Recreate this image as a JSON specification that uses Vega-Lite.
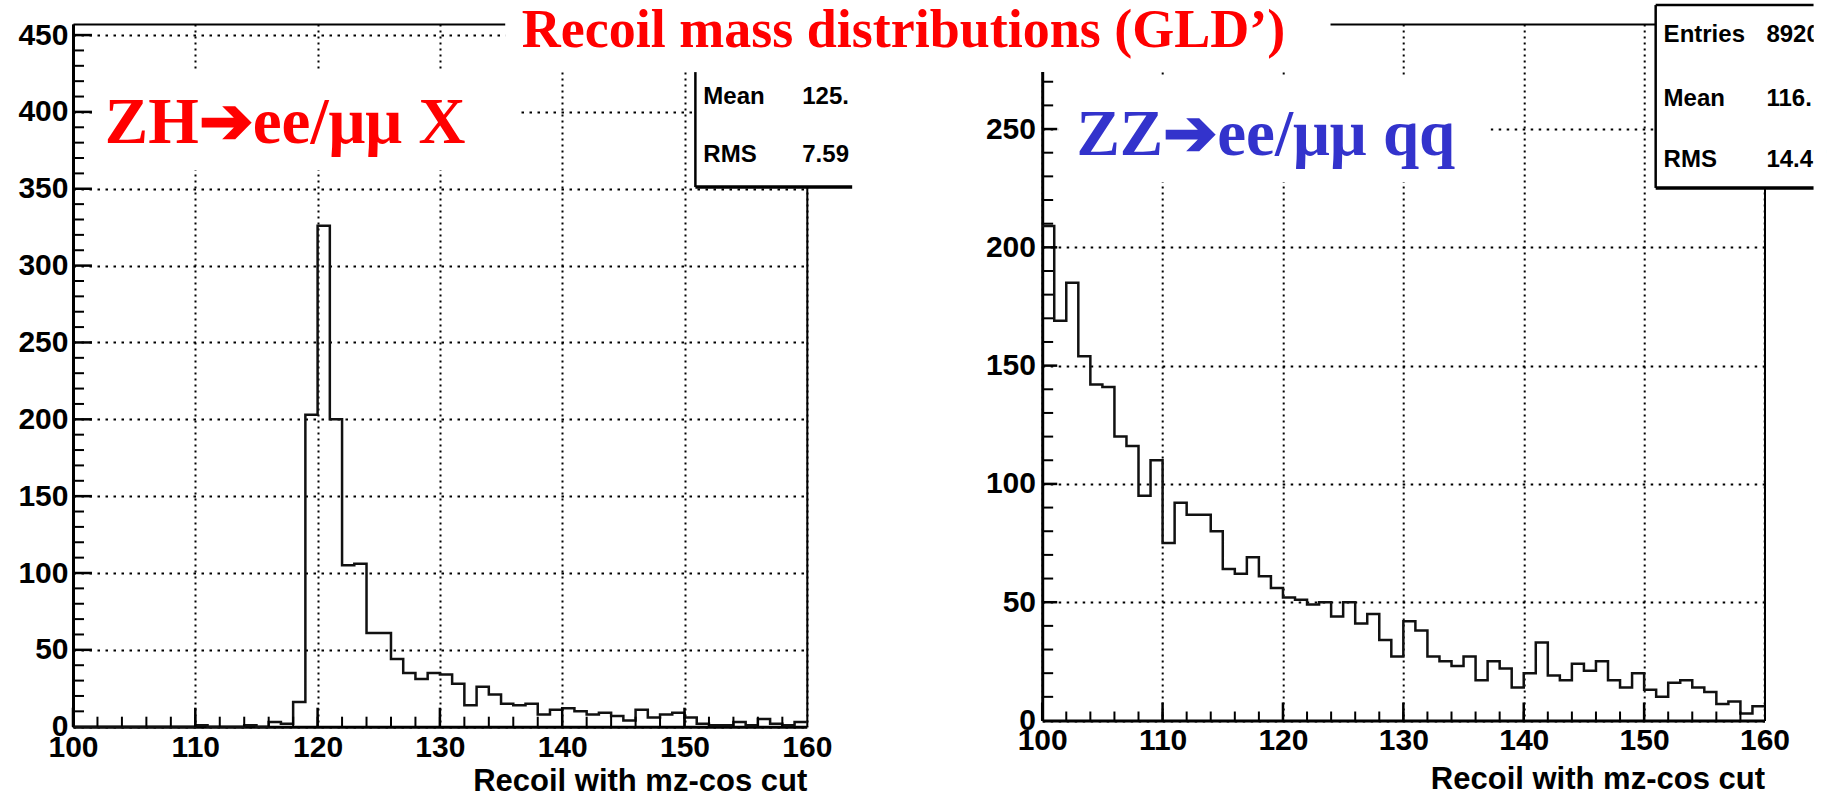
{
"$schema":"https://vega.github.io/schema/vega-lite/v6.json",
"background":"white",
"padding":0,
"bounds":"flush",
"spacing":235.2,
"datasets":{
"zh":[
{"lo":100,"hi":101,"n":0},{"lo":101,"hi":102,"n":0},{"lo":102,"hi":103,"n":0},{"lo":103,"hi":104,"n":0},{"lo":104,"hi":105,"n":0},{"lo":105,"hi":106,"n":0},{"lo":106,"hi":107,"n":0},{"lo":107,"hi":108,"n":0},{"lo":108,"hi":109,"n":0},{"lo":109,"hi":110,"n":0},
{"lo":110,"hi":111,"n":1},{"lo":111,"hi":112,"n":0},{"lo":112,"hi":113,"n":0},{"lo":113,"hi":114,"n":0},{"lo":114,"hi":115,"n":1},{"lo":115,"hi":116,"n":0},{"lo":116,"hi":117,"n":3},{"lo":117,"hi":118,"n":2},{"lo":118,"hi":119,"n":16},{"lo":119,"hi":120,"n":203},
{"lo":120,"hi":121,"n":326},{"lo":121,"hi":122,"n":200},{"lo":122,"hi":123,"n":105},{"lo":123,"hi":124,"n":106},{"lo":124,"hi":125,"n":61},{"lo":125,"hi":126,"n":61},{"lo":126,"hi":127,"n":44},{"lo":127,"hi":128,"n":35},{"lo":128,"hi":129,"n":31},{"lo":129,"hi":130,"n":35},
{"lo":130,"hi":131,"n":34},{"lo":131,"hi":132,"n":28},{"lo":132,"hi":133,"n":14},{"lo":133,"hi":134,"n":26},{"lo":134,"hi":135,"n":21},{"lo":135,"hi":136,"n":15},{"lo":136,"hi":137,"n":14},{"lo":137,"hi":138,"n":15},{"lo":138,"hi":139,"n":8},{"lo":139,"hi":140,"n":11},
{"lo":140,"hi":141,"n":12},{"lo":141,"hi":142,"n":10},{"lo":142,"hi":143,"n":8},{"lo":143,"hi":144,"n":9},{"lo":144,"hi":145,"n":7},{"lo":145,"hi":146,"n":4},{"lo":146,"hi":147,"n":11},{"lo":147,"hi":148,"n":6},{"lo":148,"hi":149,"n":8},{"lo":149,"hi":150,"n":9},
{"lo":150,"hi":151,"n":6},{"lo":151,"hi":152,"n":2},{"lo":152,"hi":153,"n":1},{"lo":153,"hi":154,"n":1},{"lo":154,"hi":155,"n":3},{"lo":155,"hi":156,"n":1},{"lo":156,"hi":157,"n":5},{"lo":157,"hi":158,"n":2},{"lo":158,"hi":159,"n":1},{"lo":159,"hi":160,"n":3}
],
"zz":[
{"lo":100,"hi":101,"n":209},{"lo":101,"hi":102,"n":169},{"lo":102,"hi":103,"n":185},{"lo":103,"hi":104,"n":154},{"lo":104,"hi":105,"n":142},{"lo":105,"hi":106,"n":141},{"lo":106,"hi":107,"n":120},{"lo":107,"hi":108,"n":116},{"lo":108,"hi":109,"n":95},{"lo":109,"hi":110,"n":110},
{"lo":110,"hi":111,"n":75},{"lo":111,"hi":112,"n":92},{"lo":112,"hi":113,"n":87},{"lo":113,"hi":114,"n":87},{"lo":114,"hi":115,"n":80},{"lo":115,"hi":116,"n":64},{"lo":116,"hi":117,"n":62},{"lo":117,"hi":118,"n":69},{"lo":118,"hi":119,"n":61},{"lo":119,"hi":120,"n":56},
{"lo":120,"hi":121,"n":52},{"lo":121,"hi":122,"n":51},{"lo":122,"hi":123,"n":49},{"lo":123,"hi":124,"n":50},{"lo":124,"hi":125,"n":44},{"lo":125,"hi":126,"n":50},{"lo":126,"hi":127,"n":41},{"lo":127,"hi":128,"n":45},{"lo":128,"hi":129,"n":34},{"lo":129,"hi":130,"n":27},
{"lo":130,"hi":131,"n":42},{"lo":131,"hi":132,"n":38},{"lo":132,"hi":133,"n":27},{"lo":133,"hi":134,"n":25},{"lo":134,"hi":135,"n":23},{"lo":135,"hi":136,"n":27},{"lo":136,"hi":137,"n":17},{"lo":137,"hi":138,"n":25},{"lo":138,"hi":139,"n":22},{"lo":139,"hi":140,"n":14},
{"lo":140,"hi":141,"n":20},{"lo":141,"hi":142,"n":33},{"lo":142,"hi":143,"n":19},{"lo":143,"hi":144,"n":17},{"lo":144,"hi":145,"n":24},{"lo":145,"hi":146,"n":21},{"lo":146,"hi":147,"n":25},{"lo":147,"hi":148,"n":17},{"lo":148,"hi":149,"n":14},{"lo":149,"hi":150,"n":20},
{"lo":150,"hi":151,"n":13},{"lo":151,"hi":152,"n":10},{"lo":152,"hi":153,"n":16},{"lo":153,"hi":154,"n":17},{"lo":154,"hi":155,"n":14},{"lo":155,"hi":156,"n":12},{"lo":156,"hi":157,"n":7},{"lo":157,"hi":158,"n":8},{"lo":158,"hi":159,"n":3},{"lo":159,"hi":160,"n":6}
],
"one":[{}]
},
"hconcat":[
{
"width":733.8,"height":702.7,
"resolve":{"axis":{"x":"independent","y":"independent"}},
"layer":[
{"data":{"name":"zh"},
 "transform":[{"fold":["lo","hi"],"as":["edge","x"]}],
 "mark":{"type":"line","color":"#111111","strokeWidth":2.5,"strokeJoin":"miter"},
 "encoding":{
  "x":{"field":"x","type":"quantitative","scale":{"domain":[100,160],"nice":false,"zero":false},
       "axis":{"orient":"bottom","values":[100,110,120,130,140,150,160],"grid":true,"gridDash":[2,4],"domainWidth":3,"tickSize":-18,"tickOpacity":0,"labelPadding":24,"labelFontSize":30,"title":"Recoil with mz-cos cut","titleFontSize":31,"titleAnchor":"end","titleBaseline":"alphabetic","titleY":64}},
  "y":{"field":"n","type":"quantitative","scale":{"domain":[0,457.2],"nice":false,"zero":false},
       "axis":{"orient":"left","values":[0,50,100,150,200,250,300,350,400,450],"grid":true,"gridDash":[2.5,5.5],"domainWidth":3,"tickSize":-18,"tickOpacity":0,"labelPadding":23,"labelFontSize":30,"title":null}},
  "order":[{"field":"x","type":"quantitative"},{"field":"edge","type":"ordinal"}]
 }},
{"data":{"name":"zh"},
 "mark":{"type":"point","opacity":0},
 "encoding":{
  "x":{"field":"lo","type":"quantitative","scale":{"domain":[100,160],"nice":false,"zero":false},
       "axis":{"orient":"top","ticks":false,"labels":false,"grid":false,"domainWidth":2,"domainColor":"#000000","title":null}},
  "y":{"field":"n","type":"quantitative","scale":{"domain":[0,457.2],"nice":false,"zero":false},
       "axis":{"orient":"right","ticks":false,"labels":false,"grid":false,"domainWidth":2,"domainColor":"#000000","title":null}}
 }},
{"data":{"name":"zh"},"transform":[{"filter":"datum.lo % 2 == 0"}],
 "mark":{"type":"rule","color":"#000000","strokeWidth":2},
 "encoding":{"x":{"field":"lo","type":"quantitative","scale":{"domain":[100,160],"nice":false,"zero":false},"axis":null},
  "y":{"datum":0,"type":"quantitative","scale":{"domain":[0,457.2],"nice":false,"zero":false},"axis":null},"y2":{"datum":6.51}}},
{"data":{"name":"zh"},"transform":[{"filter":"datum.lo % 10 == 0"}],
 "mark":{"type":"rule","color":"#000000","strokeWidth":2.5},
 "encoding":{"x":{"field":"lo","type":"quantitative","scale":{"domain":[100,160],"nice":false,"zero":false},"axis":null},
  "y":{"datum":0,"type":"quantitative","scale":{"domain":[0,457.2],"nice":false,"zero":false},"axis":null},"y2":{"datum":12.36}}},
{"data":{"name":"one"},
 "encoding":{"x":{"datum":100,"type":"quantitative","scale":{"domain":[100,160],"nice":false,"zero":false},"axis":null},"x2":{"datum":100.9}},
 "layer":[
  {"mark":{"type":"rule","color":"#000000","strokeWidth":2},"encoding":{"y":{"datum":10,"type":"quantitative","scale":{"domain":[0,457.2],"nice":false,"zero":false},"axis":null}}},
  {"mark":{"type":"rule","color":"#000000","strokeWidth":2},"encoding":{"y":{"datum":20,"type":"quantitative","scale":{"domain":[0,457.2],"nice":false,"zero":false},"axis":null}}},
  {"mark":{"type":"rule","color":"#000000","strokeWidth":2},"encoding":{"y":{"datum":30,"type":"quantitative","scale":{"domain":[0,457.2],"nice":false,"zero":false},"axis":null}}},
  {"mark":{"type":"rule","color":"#000000","strokeWidth":2},"encoding":{"y":{"datum":40,"type":"quantitative","scale":{"domain":[0,457.2],"nice":false,"zero":false},"axis":null}}},
  {"mark":{"type":"rule","color":"#000000","strokeWidth":2},"encoding":{"y":{"datum":60,"type":"quantitative","scale":{"domain":[0,457.2],"nice":false,"zero":false},"axis":null}}},
  {"mark":{"type":"rule","color":"#000000","strokeWidth":2},"encoding":{"y":{"datum":70,"type":"quantitative","scale":{"domain":[0,457.2],"nice":false,"zero":false},"axis":null}}},
  {"mark":{"type":"rule","color":"#000000","strokeWidth":2},"encoding":{"y":{"datum":80,"type":"quantitative","scale":{"domain":[0,457.2],"nice":false,"zero":false},"axis":null}}},
  {"mark":{"type":"rule","color":"#000000","strokeWidth":2},"encoding":{"y":{"datum":90,"type":"quantitative","scale":{"domain":[0,457.2],"nice":false,"zero":false},"axis":null}}},
  {"mark":{"type":"rule","color":"#000000","strokeWidth":2},"encoding":{"y":{"datum":110,"type":"quantitative","scale":{"domain":[0,457.2],"nice":false,"zero":false},"axis":null}}},
  {"mark":{"type":"rule","color":"#000000","strokeWidth":2},"encoding":{"y":{"datum":120,"type":"quantitative","scale":{"domain":[0,457.2],"nice":false,"zero":false},"axis":null}}},
  {"mark":{"type":"rule","color":"#000000","strokeWidth":2},"encoding":{"y":{"datum":130,"type":"quantitative","scale":{"domain":[0,457.2],"nice":false,"zero":false},"axis":null}}},
  {"mark":{"type":"rule","color":"#000000","strokeWidth":2},"encoding":{"y":{"datum":140,"type":"quantitative","scale":{"domain":[0,457.2],"nice":false,"zero":false},"axis":null}}},
  {"mark":{"type":"rule","color":"#000000","strokeWidth":2},"encoding":{"y":{"datum":160,"type":"quantitative","scale":{"domain":[0,457.2],"nice":false,"zero":false},"axis":null}}},
  {"mark":{"type":"rule","color":"#000000","strokeWidth":2},"encoding":{"y":{"datum":170,"type":"quantitative","scale":{"domain":[0,457.2],"nice":false,"zero":false},"axis":null}}},
  {"mark":{"type":"rule","color":"#000000","strokeWidth":2},"encoding":{"y":{"datum":180,"type":"quantitative","scale":{"domain":[0,457.2],"nice":false,"zero":false},"axis":null}}},
  {"mark":{"type":"rule","color":"#000000","strokeWidth":2},"encoding":{"y":{"datum":190,"type":"quantitative","scale":{"domain":[0,457.2],"nice":false,"zero":false},"axis":null}}},
  {"mark":{"type":"rule","color":"#000000","strokeWidth":2},"encoding":{"y":{"datum":210,"type":"quantitative","scale":{"domain":[0,457.2],"nice":false,"zero":false},"axis":null}}},
  {"mark":{"type":"rule","color":"#000000","strokeWidth":2},"encoding":{"y":{"datum":220,"type":"quantitative","scale":{"domain":[0,457.2],"nice":false,"zero":false},"axis":null}}},
  {"mark":{"type":"rule","color":"#000000","strokeWidth":2},"encoding":{"y":{"datum":230,"type":"quantitative","scale":{"domain":[0,457.2],"nice":false,"zero":false},"axis":null}}},
  {"mark":{"type":"rule","color":"#000000","strokeWidth":2},"encoding":{"y":{"datum":240,"type":"quantitative","scale":{"domain":[0,457.2],"nice":false,"zero":false},"axis":null}}},
  {"mark":{"type":"rule","color":"#000000","strokeWidth":2},"encoding":{"y":{"datum":260,"type":"quantitative","scale":{"domain":[0,457.2],"nice":false,"zero":false},"axis":null}}},
  {"mark":{"type":"rule","color":"#000000","strokeWidth":2},"encoding":{"y":{"datum":270,"type":"quantitative","scale":{"domain":[0,457.2],"nice":false,"zero":false},"axis":null}}},
  {"mark":{"type":"rule","color":"#000000","strokeWidth":2},"encoding":{"y":{"datum":280,"type":"quantitative","scale":{"domain":[0,457.2],"nice":false,"zero":false},"axis":null}}},
  {"mark":{"type":"rule","color":"#000000","strokeWidth":2},"encoding":{"y":{"datum":290,"type":"quantitative","scale":{"domain":[0,457.2],"nice":false,"zero":false},"axis":null}}},
  {"mark":{"type":"rule","color":"#000000","strokeWidth":2},"encoding":{"y":{"datum":310,"type":"quantitative","scale":{"domain":[0,457.2],"nice":false,"zero":false},"axis":null}}},
  {"mark":{"type":"rule","color":"#000000","strokeWidth":2},"encoding":{"y":{"datum":320,"type":"quantitative","scale":{"domain":[0,457.2],"nice":false,"zero":false},"axis":null}}},
  {"mark":{"type":"rule","color":"#000000","strokeWidth":2},"encoding":{"y":{"datum":330,"type":"quantitative","scale":{"domain":[0,457.2],"nice":false,"zero":false},"axis":null}}},
  {"mark":{"type":"rule","color":"#000000","strokeWidth":2},"encoding":{"y":{"datum":340,"type":"quantitative","scale":{"domain":[0,457.2],"nice":false,"zero":false},"axis":null}}},
  {"mark":{"type":"rule","color":"#000000","strokeWidth":2},"encoding":{"y":{"datum":360,"type":"quantitative","scale":{"domain":[0,457.2],"nice":false,"zero":false},"axis":null}}},
  {"mark":{"type":"rule","color":"#000000","strokeWidth":2},"encoding":{"y":{"datum":370,"type":"quantitative","scale":{"domain":[0,457.2],"nice":false,"zero":false},"axis":null}}},
  {"mark":{"type":"rule","color":"#000000","strokeWidth":2},"encoding":{"y":{"datum":380,"type":"quantitative","scale":{"domain":[0,457.2],"nice":false,"zero":false},"axis":null}}},
  {"mark":{"type":"rule","color":"#000000","strokeWidth":2},"encoding":{"y":{"datum":390,"type":"quantitative","scale":{"domain":[0,457.2],"nice":false,"zero":false},"axis":null}}},
  {"mark":{"type":"rule","color":"#000000","strokeWidth":2},"encoding":{"y":{"datum":410,"type":"quantitative","scale":{"domain":[0,457.2],"nice":false,"zero":false},"axis":null}}},
  {"mark":{"type":"rule","color":"#000000","strokeWidth":2},"encoding":{"y":{"datum":420,"type":"quantitative","scale":{"domain":[0,457.2],"nice":false,"zero":false},"axis":null}}},
  {"mark":{"type":"rule","color":"#000000","strokeWidth":2},"encoding":{"y":{"datum":430,"type":"quantitative","scale":{"domain":[0,457.2],"nice":false,"zero":false},"axis":null}}},
  {"mark":{"type":"rule","color":"#000000","strokeWidth":2},"encoding":{"y":{"datum":440,"type":"quantitative","scale":{"domain":[0,457.2],"nice":false,"zero":false},"axis":null}}}
 ]},
{"data":{"name":"one"},
 "encoding":{"x":{"datum":100,"type":"quantitative","scale":{"domain":[100,160],"nice":false,"zero":false},"axis":null},"x2":{"datum":101.55}},
 "layer":[
  {"mark":{"type":"rule","color":"#000000","strokeWidth":2.5},"encoding":{"y":{"datum":50,"type":"quantitative","scale":{"domain":[0,457.2],"nice":false,"zero":false},"axis":null}}},
  {"mark":{"type":"rule","color":"#000000","strokeWidth":2.5},"encoding":{"y":{"datum":100,"type":"quantitative","scale":{"domain":[0,457.2],"nice":false,"zero":false},"axis":null}}},
  {"mark":{"type":"rule","color":"#000000","strokeWidth":2.5},"encoding":{"y":{"datum":150,"type":"quantitative","scale":{"domain":[0,457.2],"nice":false,"zero":false},"axis":null}}},
  {"mark":{"type":"rule","color":"#000000","strokeWidth":2.5},"encoding":{"y":{"datum":200,"type":"quantitative","scale":{"domain":[0,457.2],"nice":false,"zero":false},"axis":null}}},
  {"mark":{"type":"rule","color":"#000000","strokeWidth":2.5},"encoding":{"y":{"datum":250,"type":"quantitative","scale":{"domain":[0,457.2],"nice":false,"zero":false},"axis":null}}},
  {"mark":{"type":"rule","color":"#000000","strokeWidth":2.5},"encoding":{"y":{"datum":300,"type":"quantitative","scale":{"domain":[0,457.2],"nice":false,"zero":false},"axis":null}}},
  {"mark":{"type":"rule","color":"#000000","strokeWidth":2.5},"encoding":{"y":{"datum":350,"type":"quantitative","scale":{"domain":[0,457.2],"nice":false,"zero":false},"axis":null}}},
  {"mark":{"type":"rule","color":"#000000","strokeWidth":2.5},"encoding":{"y":{"datum":400,"type":"quantitative","scale":{"domain":[0,457.2],"nice":false,"zero":false},"axis":null}}},
  {"mark":{"type":"rule","color":"#000000","strokeWidth":2.5},"encoding":{"y":{"datum":450,"type":"quantitative","scale":{"domain":[0,457.2],"nice":false,"zero":false},"axis":null}}}
 ]},
{"data":{"name":"one"},"mark":{"type":"rect","color":"#ffffff","opacity":1},
 "encoding":{"x":{"datum":94.06,"type":"quantitative","scale":{"domain":[100,160],"nice":false,"zero":false},"axis":null},"x2":{"datum":98.96},
  "y":{"datum":460.4,"type":"quantitative","scale":{"domain":[0,457.2],"nice":false,"zero":false},"axis":null},"y2":{"datum":472.8}}},
{"data":{"name":"one"},"mark":{"type":"rect","color":"#ffffff","opacity":1},
 "encoding":{"x":{"datum":150.89,"type":"quantitative","scale":{"domain":[100,160],"nice":false,"zero":false},"axis":null},"x2":{"datum":163.71},
  "y":{"datum":351.1,"type":"quantitative","scale":{"domain":[0,457.2],"nice":false,"zero":false},"axis":null},"y2":{"datum":425.9}}},
{"data":{"name":"one"},"mark":{"type":"rule","color":"#000000","strokeWidth":2.5},
 "encoding":{"x":{"datum":150.89,"type":"quantitative","scale":{"domain":[100,160],"nice":false,"zero":false},"axis":null},
  "y":{"datum":351.1,"type":"quantitative","scale":{"domain":[0,457.2],"nice":false,"zero":false},"axis":null},"y2":{"datum":425.9}}},
{"data":{"name":"one"},"mark":{"type":"rule","color":"#000000","strokeWidth":3.5},
 "encoding":{"x":{"datum":150.89,"type":"quantitative","scale":{"domain":[100,160],"nice":false,"zero":false},"axis":null},"x2":{"datum":163.71},
  "y":{"datum":351.1,"type":"quantitative","scale":{"domain":[0,457.2],"nice":false,"zero":false},"axis":null}}},
{"data":{"name":"one"},"mark":{"type":"rect","color":"#ffffff","opacity":1},
 "encoding":{"x":{"datum":101.59,"type":"quantitative","scale":{"domain":[100,160],"nice":false,"zero":false},"axis":null},"x2":{"datum":136.24},
  "y":{"datum":362.2,"type":"quantitative","scale":{"domain":[0,457.2],"nice":false,"zero":false},"axis":null},"y2":{"datum":427.2}}},
{"data":{"name":"one"},"mark":{"type":"rect","color":"#ffffff","opacity":1},
 "encoding":{"x":{"datum":135.34,"type":"quantitative","scale":{"domain":[100,160],"nice":false,"zero":false},"axis":null},"x2":{"datum":164.39},
  "y":{"datum":425.9,"type":"quantitative","scale":{"domain":[0,457.2],"nice":false,"zero":false},"axis":null},"y2":{"datum":472.8}}},
{"data":{"name":"one"},"mark":{"type":"text","text":"Mean","font":"Liberation Sans","fontWeight":"bold","fontSize":24,"align":"left","baseline":"alphabetic","color":"#000000"},
 "encoding":{"x":{"datum":151.54,"type":"quantitative","scale":{"domain":[100,160],"nice":false,"zero":false},"axis":null},
  "y":{"datum":405.1,"type":"quantitative","scale":{"domain":[0,457.2],"nice":false,"zero":false},"axis":null}}},
{"data":{"name":"one"},"mark":{"type":"text","text":"125.","font":"Liberation Sans","fontWeight":"bold","fontSize":24,"align":"left","baseline":"alphabetic","color":"#000000"},
 "encoding":{"x":{"datum":159.63,"type":"quantitative","scale":{"domain":[100,160],"nice":false,"zero":false},"axis":null},
  "y":{"datum":405.1,"type":"quantitative","scale":{"domain":[0,457.2],"nice":false,"zero":false},"axis":null}}},
{"data":{"name":"one"},"mark":{"type":"text","text":"RMS","font":"Liberation Sans","fontWeight":"bold","fontSize":24,"align":"left","baseline":"alphabetic","color":"#000000"},
 "encoding":{"x":{"datum":151.54,"type":"quantitative","scale":{"domain":[100,160],"nice":false,"zero":false},"axis":null},
  "y":{"datum":367.4,"type":"quantitative","scale":{"domain":[0,457.2],"nice":false,"zero":false},"axis":null}}},
{"data":{"name":"one"},"mark":{"type":"text","text":"7.59","font":"Liberation Sans","fontWeight":"bold","fontSize":24,"align":"left","baseline":"alphabetic","color":"#000000"},
 "encoding":{"x":{"datum":159.63,"type":"quantitative","scale":{"domain":[100,160],"nice":false,"zero":false},"axis":null},
  "y":{"datum":367.4,"type":"quantitative","scale":{"domain":[0,457.2],"nice":false,"zero":false},"axis":null}}},
{"data":{"name":"one"},"mark":{"type":"text","text":"ZH➔ee/μμ X","font":"Liberation Serif","fontWeight":"bold","fontSize":65,"align":"left","baseline":"alphabetic","color":"#ff0000"},
 "encoding":{"x":{"datum":102.6,"type":"quantitative","scale":{"domain":[100,160],"nice":false,"zero":false},"axis":null},
  "y":{"datum":379.6,"type":"quantitative","scale":{"domain":[0,457.2],"nice":false,"zero":false},"axis":null}}}
]
},
{
"width":722.3,"height":696.5,
"resolve":{"axis":{"x":"independent","y":"independent"}},
"layer":[
{"data":{"name":"zz"},
 "transform":[{"fold":["lo","hi"],"as":["edge","x"]}],
 "mark":{"type":"line","color":"#111111","strokeWidth":2.5,"strokeJoin":"miter"},
 "encoding":{
  "x":{"field":"x","type":"quantitative","scale":{"domain":[100,160],"nice":false,"zero":false},
       "axis":{"orient":"bottom","values":[100,110,120,130,140,150,160],"grid":true,"gridDash":[2,4],"domainWidth":3,"tickSize":-18,"tickOpacity":0,"labelPadding":23.3,"labelFontSize":30,"title":"Recoil with mz-cos cut","titleFontSize":31,"titleAnchor":"end","titleBaseline":"alphabetic","titleY":67.5}},
  "y":{"field":"n","type":"quantitative","scale":{"domain":[0,294.4],"nice":false,"zero":false},
       "axis":{"orient":"left","values":[0,50,100,150,200,250],"grid":true,"gridDash":[2.5,5.5],"domainWidth":3,"tickSize":-15,"tickOpacity":0,"labelPadding":21.7,"labelFontSize":30,"title":null}},
  "order":[{"field":"x","type":"quantitative"},{"field":"edge","type":"ordinal"}]
 }},
{"data":{"name":"zz"},
 "mark":{"type":"point","opacity":0},
 "encoding":{
  "x":{"field":"lo","type":"quantitative","scale":{"domain":[100,160],"nice":false,"zero":false},
       "axis":{"orient":"top","ticks":false,"labels":false,"grid":false,"domainWidth":2,"domainColor":"#000000","title":null}},
  "y":{"field":"n","type":"quantitative","scale":{"domain":[0,294.4],"nice":false,"zero":false},
       "axis":{"orient":"right","ticks":false,"labels":false,"grid":false,"domainWidth":2,"domainColor":"#000000","title":null}}
 }},
{"data":{"name":"zz"},"transform":[{"filter":"datum.lo % 2 == 0"}],
 "mark":{"type":"rule","color":"#000000","strokeWidth":2},
 "encoding":{"x":{"field":"lo","type":"quantitative","scale":{"domain":[100,160],"nice":false,"zero":false},"axis":null},
  "y":{"datum":0,"type":"quantitative","scale":{"domain":[0,294.4],"nice":false,"zero":false},"axis":null},"y2":{"datum":3.8}}},
{"data":{"name":"zz"},"transform":[{"filter":"datum.lo % 10 == 0"}],
 "mark":{"type":"rule","color":"#000000","strokeWidth":2.5},
 "encoding":{"x":{"field":"lo","type":"quantitative","scale":{"domain":[100,160],"nice":false,"zero":false},"axis":null},
  "y":{"datum":0,"type":"quantitative","scale":{"domain":[0,294.4],"nice":false,"zero":false},"axis":null},"y2":{"datum":7.61}}},
{"data":{"name":"one"},
 "encoding":{"x":{"datum":100,"type":"quantitative","scale":{"domain":[100,160],"nice":false,"zero":false},"axis":null},"x2":{"datum":100.91}},
 "layer":[
  {"mark":{"type":"rule","color":"#000000","strokeWidth":2},"encoding":{"y":{"datum":10,"type":"quantitative","scale":{"domain":[0,294.4],"nice":false,"zero":false},"axis":null}}},
  {"mark":{"type":"rule","color":"#000000","strokeWidth":2},"encoding":{"y":{"datum":20,"type":"quantitative","scale":{"domain":[0,294.4],"nice":false,"zero":false},"axis":null}}},
  {"mark":{"type":"rule","color":"#000000","strokeWidth":2},"encoding":{"y":{"datum":30,"type":"quantitative","scale":{"domain":[0,294.4],"nice":false,"zero":false},"axis":null}}},
  {"mark":{"type":"rule","color":"#000000","strokeWidth":2},"encoding":{"y":{"datum":40,"type":"quantitative","scale":{"domain":[0,294.4],"nice":false,"zero":false},"axis":null}}},
  {"mark":{"type":"rule","color":"#000000","strokeWidth":2},"encoding":{"y":{"datum":60,"type":"quantitative","scale":{"domain":[0,294.4],"nice":false,"zero":false},"axis":null}}},
  {"mark":{"type":"rule","color":"#000000","strokeWidth":2},"encoding":{"y":{"datum":70,"type":"quantitative","scale":{"domain":[0,294.4],"nice":false,"zero":false},"axis":null}}},
  {"mark":{"type":"rule","color":"#000000","strokeWidth":2},"encoding":{"y":{"datum":80,"type":"quantitative","scale":{"domain":[0,294.4],"nice":false,"zero":false},"axis":null}}},
  {"mark":{"type":"rule","color":"#000000","strokeWidth":2},"encoding":{"y":{"datum":90,"type":"quantitative","scale":{"domain":[0,294.4],"nice":false,"zero":false},"axis":null}}},
  {"mark":{"type":"rule","color":"#000000","strokeWidth":2},"encoding":{"y":{"datum":110,"type":"quantitative","scale":{"domain":[0,294.4],"nice":false,"zero":false},"axis":null}}},
  {"mark":{"type":"rule","color":"#000000","strokeWidth":2},"encoding":{"y":{"datum":120,"type":"quantitative","scale":{"domain":[0,294.4],"nice":false,"zero":false},"axis":null}}},
  {"mark":{"type":"rule","color":"#000000","strokeWidth":2},"encoding":{"y":{"datum":130,"type":"quantitative","scale":{"domain":[0,294.4],"nice":false,"zero":false},"axis":null}}},
  {"mark":{"type":"rule","color":"#000000","strokeWidth":2},"encoding":{"y":{"datum":140,"type":"quantitative","scale":{"domain":[0,294.4],"nice":false,"zero":false},"axis":null}}},
  {"mark":{"type":"rule","color":"#000000","strokeWidth":2},"encoding":{"y":{"datum":160,"type":"quantitative","scale":{"domain":[0,294.4],"nice":false,"zero":false},"axis":null}}},
  {"mark":{"type":"rule","color":"#000000","strokeWidth":2},"encoding":{"y":{"datum":170,"type":"quantitative","scale":{"domain":[0,294.4],"nice":false,"zero":false},"axis":null}}},
  {"mark":{"type":"rule","color":"#000000","strokeWidth":2},"encoding":{"y":{"datum":180,"type":"quantitative","scale":{"domain":[0,294.4],"nice":false,"zero":false},"axis":null}}},
  {"mark":{"type":"rule","color":"#000000","strokeWidth":2},"encoding":{"y":{"datum":190,"type":"quantitative","scale":{"domain":[0,294.4],"nice":false,"zero":false},"axis":null}}},
  {"mark":{"type":"rule","color":"#000000","strokeWidth":2},"encoding":{"y":{"datum":210,"type":"quantitative","scale":{"domain":[0,294.4],"nice":false,"zero":false},"axis":null}}},
  {"mark":{"type":"rule","color":"#000000","strokeWidth":2},"encoding":{"y":{"datum":220,"type":"quantitative","scale":{"domain":[0,294.4],"nice":false,"zero":false},"axis":null}}},
  {"mark":{"type":"rule","color":"#000000","strokeWidth":2},"encoding":{"y":{"datum":230,"type":"quantitative","scale":{"domain":[0,294.4],"nice":false,"zero":false},"axis":null}}},
  {"mark":{"type":"rule","color":"#000000","strokeWidth":2},"encoding":{"y":{"datum":240,"type":"quantitative","scale":{"domain":[0,294.4],"nice":false,"zero":false},"axis":null}}},
  {"mark":{"type":"rule","color":"#000000","strokeWidth":2},"encoding":{"y":{"datum":260,"type":"quantitative","scale":{"domain":[0,294.4],"nice":false,"zero":false},"axis":null}}},
  {"mark":{"type":"rule","color":"#000000","strokeWidth":2},"encoding":{"y":{"datum":270,"type":"quantitative","scale":{"domain":[0,294.4],"nice":false,"zero":false},"axis":null}}},
  {"mark":{"type":"rule","color":"#000000","strokeWidth":2},"encoding":{"y":{"datum":280,"type":"quantitative","scale":{"domain":[0,294.4],"nice":false,"zero":false},"axis":null}}},
  {"mark":{"type":"rule","color":"#000000","strokeWidth":2},"encoding":{"y":{"datum":290,"type":"quantitative","scale":{"domain":[0,294.4],"nice":false,"zero":false},"axis":null}}}
 ]},
{"data":{"name":"one"},
 "encoding":{"x":{"datum":100,"type":"quantitative","scale":{"domain":[100,160],"nice":false,"zero":false},"axis":null},"x2":{"datum":101.25}},
 "layer":[
  {"mark":{"type":"rule","color":"#000000","strokeWidth":2.5},"encoding":{"y":{"datum":50,"type":"quantitative","scale":{"domain":[0,294.4],"nice":false,"zero":false},"axis":null}}},
  {"mark":{"type":"rule","color":"#000000","strokeWidth":2.5},"encoding":{"y":{"datum":100,"type":"quantitative","scale":{"domain":[0,294.4],"nice":false,"zero":false},"axis":null}}},
  {"mark":{"type":"rule","color":"#000000","strokeWidth":2.5},"encoding":{"y":{"datum":150,"type":"quantitative","scale":{"domain":[0,294.4],"nice":false,"zero":false},"axis":null}}},
  {"mark":{"type":"rule","color":"#000000","strokeWidth":2.5},"encoding":{"y":{"datum":200,"type":"quantitative","scale":{"domain":[0,294.4],"nice":false,"zero":false},"axis":null}}},
  {"mark":{"type":"rule","color":"#000000","strokeWidth":2.5},"encoding":{"y":{"datum":250,"type":"quantitative","scale":{"domain":[0,294.4],"nice":false,"zero":false},"axis":null}}}
 ]},
{"data":{"name":"one"},"mark":{"type":"rect","color":"#ffffff","opacity":1},
 "encoding":{"x":{"datum":98.2,"type":"quantitative","scale":{"domain":[100,160],"nice":false,"zero":false},"axis":null},"x2":{"datum":123.95},
  "y":{"datum":274.1,"type":"quantitative","scale":{"domain":[0,294.4],"nice":false,"zero":false},"axis":null},"y2":{"datum":304.5}}},
{"data":{"name":"one"},"mark":{"type":"rect","color":"#ffffff","opacity":1},
 "encoding":{"x":{"datum":101.35,"type":"quantitative","scale":{"domain":[100,160],"nice":false,"zero":false},"axis":null},"x2":{"datum":137.24},
  "y":{"datum":227.6,"type":"quantitative","scale":{"domain":[0,294.4],"nice":false,"zero":false},"axis":null},"y2":{"datum":271.6}}},
{"data":{"name":"one"},"mark":{"type":"rect","color":"#ffffff","opacity":1},
 "encoding":{"x":{"datum":150.96,"type":"quantitative","scale":{"domain":[100,160],"nice":false,"zero":false},"axis":null},"x2":{"datum":164.09},
  "y":{"datum":225.1,"type":"quantitative","scale":{"domain":[0,294.4],"nice":false,"zero":false},"axis":null},"y2":{"datum":302.4}}},
{"data":{"name":"one"},"mark":{"type":"rule","color":"#000000","strokeWidth":2.5},
 "encoding":{"x":{"datum":150.96,"type":"quantitative","scale":{"domain":[100,160],"nice":false,"zero":false},"axis":null},
  "y":{"datum":225.1,"type":"quantitative","scale":{"domain":[0,294.4],"nice":false,"zero":false},"axis":null},"y2":{"datum":302.4}}},
{"data":{"name":"one"},"mark":{"type":"rule","color":"#000000","strokeWidth":2.5},
 "encoding":{"x":{"datum":150.96,"type":"quantitative","scale":{"domain":[100,160],"nice":false,"zero":false},"axis":null},"x2":{"datum":164.09},
  "y":{"datum":302.4,"type":"quantitative","scale":{"domain":[0,294.4],"nice":false,"zero":false},"axis":null}}},
{"data":{"name":"one"},"mark":{"type":"rule","color":"#000000","strokeWidth":3.5},
 "encoding":{"x":{"datum":150.96,"type":"quantitative","scale":{"domain":[100,160],"nice":false,"zero":false},"axis":null},"x2":{"datum":164.09},
  "y":{"datum":225.1,"type":"quantitative","scale":{"domain":[0,294.4],"nice":false,"zero":false},"axis":null}}},
{"data":{"name":"one"},"mark":{"type":"text","text":"Entries","font":"Liberation Sans","fontWeight":"bold","fontSize":24,"align":"left","baseline":"alphabetic","color":"#000000"},
 "encoding":{"x":{"datum":151.62,"type":"quantitative","scale":{"domain":[100,160],"nice":false,"zero":false},"axis":null},
  "y":{"datum":286.9,"type":"quantitative","scale":{"domain":[0,294.4],"nice":false,"zero":false},"axis":null}}},
{"data":{"name":"one"},"mark":{"type":"text","text":"8920","font":"Liberation Sans","fontWeight":"bold","fontSize":24,"align":"left","baseline":"alphabetic","color":"#000000"},
 "encoding":{"x":{"datum":160.16,"type":"quantitative","scale":{"domain":[100,160],"nice":false,"zero":false},"axis":null},
  "y":{"datum":286.9,"type":"quantitative","scale":{"domain":[0,294.4],"nice":false,"zero":false},"axis":null}}},
{"data":{"name":"one"},"mark":{"type":"text","text":"Mean","font":"Liberation Sans","fontWeight":"bold","fontSize":24,"align":"left","baseline":"alphabetic","color":"#000000"},
 "encoding":{"x":{"datum":151.62,"type":"quantitative","scale":{"domain":[100,160],"nice":false,"zero":false},"axis":null},
  "y":{"datum":259.7,"type":"quantitative","scale":{"domain":[0,294.4],"nice":false,"zero":false},"axis":null}}},
{"data":{"name":"one"},"mark":{"type":"text","text":"116.","font":"Liberation Sans","fontWeight":"bold","fontSize":24,"align":"left","baseline":"alphabetic","color":"#000000"},
 "encoding":{"x":{"datum":160.16,"type":"quantitative","scale":{"domain":[100,160],"nice":false,"zero":false},"axis":null},
  "y":{"datum":259.7,"type":"quantitative","scale":{"domain":[0,294.4],"nice":false,"zero":false},"axis":null}}},
{"data":{"name":"one"},"mark":{"type":"text","text":"RMS","font":"Liberation Sans","fontWeight":"bold","fontSize":24,"align":"left","baseline":"alphabetic","color":"#000000"},
 "encoding":{"x":{"datum":151.62,"type":"quantitative","scale":{"domain":[100,160],"nice":false,"zero":false},"axis":null},
  "y":{"datum":233.9,"type":"quantitative","scale":{"domain":[0,294.4],"nice":false,"zero":false},"axis":null}}},
{"data":{"name":"one"},"mark":{"type":"text","text":"14.47","font":"Liberation Sans","fontWeight":"bold","fontSize":24,"align":"left","baseline":"alphabetic","color":"#000000"},
 "encoding":{"x":{"datum":160.16,"type":"quantitative","scale":{"domain":[100,160],"nice":false,"zero":false},"axis":null},
  "y":{"datum":233.9,"type":"quantitative","scale":{"domain":[0,294.4],"nice":false,"zero":false},"axis":null}}},
{"data":{"name":"one"},"mark":{"type":"rect","color":"#ffffff","opacity":1},
 "encoding":{"x":{"datum":164.09,"type":"quantitative","scale":{"domain":[100,160],"nice":false,"zero":false},"axis":null},"x2":{"datum":165.17},
  "y":{"datum":224.2,"type":"quantitative","scale":{"domain":[0,294.4],"nice":false,"zero":false},"axis":null},"y2":{"datum":304.5}}},
{"data":{"name":"one"},"mark":{"type":"text","text":"ZZ➔ee/μμ qq","font":"Liberation Serif","fontWeight":"bold","fontSize":65,"align":"left","baseline":"alphabetic","color":"#3333cc"},
 "encoding":{"x":{"datum":102.85,"type":"quantitative","scale":{"domain":[100,160],"nice":false,"zero":false},"axis":null},
  "y":{"datum":239.0,"type":"quantitative","scale":{"domain":[0,294.4],"nice":false,"zero":false},"axis":null}}},
{"data":{"name":"one"},"mark":{"type":"text","text":"Recoil mass distributions (GLD’)","font":"Liberation Serif","fontWeight":"bold","fontSize":54,"align":"center","baseline":"alphabetic","color":"#ff0000"},
 "encoding":{"x":{"datum":88.48,"type":"quantitative","scale":{"domain":[100,160],"nice":false,"zero":false},"axis":null},
  "y":{"datum":284.7,"type":"quantitative","scale":{"domain":[0,294.4],"nice":false,"zero":false},"axis":null}}}
]
}
],
"config":{
 "view":{"stroke":null},
 "axis":{"grid":false,"domainColor":"#000000","tickColor":"#000000","labelColor":"#000000","titleColor":"#000000","gridColor":"#000000","gridOpacity":1,"gridWidth":2,
  "labelFont":"Liberation Sans","labelFontWeight":"bold","titleFont":"Liberation Sans","titleFontWeight":"bold","labelFlush":false,"labelOverlap":false,"tickWidth":2,"domainWidth":2}
}
}
